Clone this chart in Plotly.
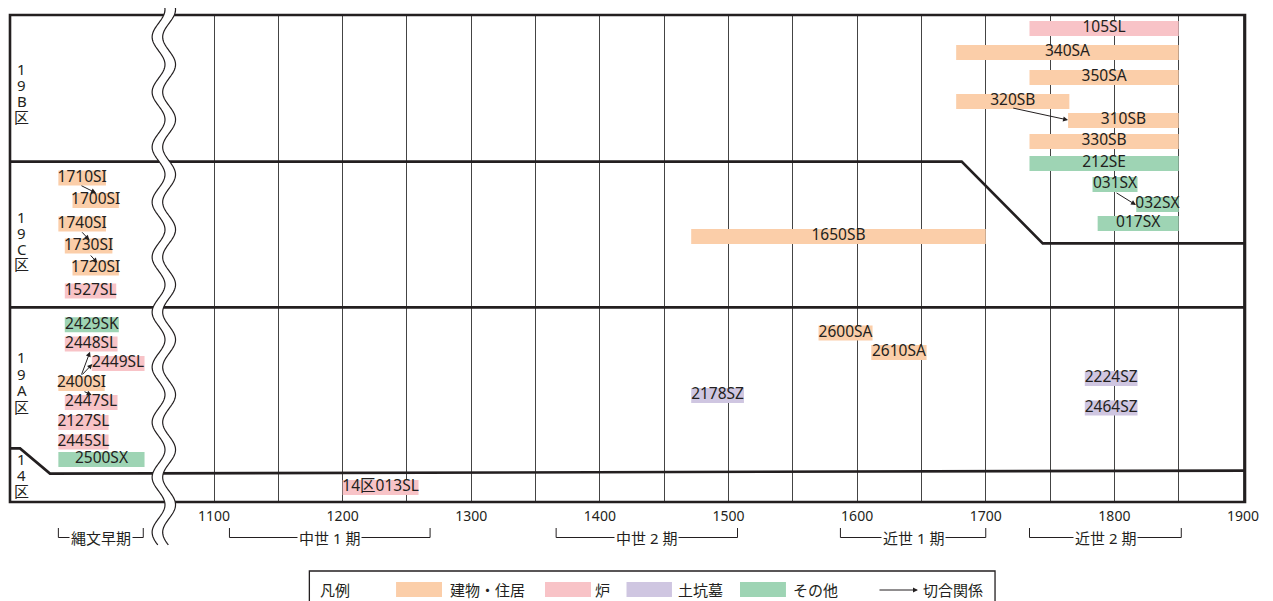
import numpy as np
import plotly.graph_objects as go

# ---------------- data ----------------
feature_labels = ["105SL", "340SA", "350SA", "320SB", "310SB", "330SB", "212SE",
                  "031SX", "032SX", "017SX", "1650SB",
                  "1710SI", "1700SI", "1740SI", "1730SI", "1720SI", "1527SL",
                  "2429SK", "2448SL", "2449SL", "2400SI", "2447SL", "2127SL", "2445SL", "2500SX",
                  "2600SA", "2610SA", "2178SZ", "2224SZ", "2464SZ",
                  "14区013SL"]
feature_kinds = ["炉", "建物・住居", "建物・住居", "建物・住居", "建物・住居", "建物・住居", "その他",
                 "その他", "その他", "その他", "建物・住居",
                 "建物・住居", "建物・住居", "建物・住居", "建物・住居", "建物・住居", "炉",
                 "その他", "炉", "炉", "建物・住居", "炉", "炉", "炉", "その他",
                 "建物・住居", "建物・住居", "土坑墓", "土坑墓", "土坑墓",
                 "炉"]
feature_start = [1734, 1677, 1734, 1677, 1764, 1734, 1734,
                 1783, 1817, 1787, 1471,
                 979, 990, 979, 984, 990, 984,
                 984, 984, 1005, 979, 984, 979, 979, 979,
                 1570, 1611, 1471, 1777, 1777,
                 1200]
feature_end = [1850, 1850, 1850, 1765, 1850, 1850, 1850,
               1818, 1850, 1850, 1700,
               1016, 1026, 1016, 1021, 1026, 1024,
               1026, 1025, 1046, 1015, 1025, 1018, 1018, 1046,
               1612, 1654, 1512, 1818, 1818,
               1259]
feature_row = [0.67, 1.88, 3.12, 4.32, 5.28, 6.32, 7.42,
               8.48, 9.48, 10.42, 11.08,
               8.15, 9.28, 10.45, 11.55, 12.65, 13.8,
               15.49, 16.45, 17.43, 18.43, 19.38, 20.38, 21.35, 22.23,
               15.9, 16.88, 19.03, 18.18, 19.65,
               23.63]

# 切合関係 arrows: tail -> head  (x = year axis, y = row)
cut_tail_x = [1720.2, 1800.5, 995.8, 996.4, 1003.1, 996.6, 996.6, 998.2]
cut_tail_y = [4.64, 8.85, 8.50, 10.79, 11.95, 18.05, 18.05, 18.80]
cut_head_x = [1764.0, 1816.8, 1008.3, 1003.1, 1009.3, 1003.6, 1005.4, 1004.9]
cut_head_y = [5.25, 9.50, 8.90, 11.25, 12.39, 16.84, 17.45, 19.00]

legend_kinds = ["建物・住居", "炉", "土坑墓", "その他"]
kind_colors = ["#FBCEA9", "#F8C3C7", "#CFC6E1", "#9ED4B4"]

period_names = ["縄文早期", "中世 1 期", "中世 2 期", "近世 1 期", "近世 2 期"]
period_start = [979, 1112, 1366, 1587, 1734]
period_end = [1045, 1268, 1507, 1700, 1852]

tick_years = list(range(1100, 1901, 50))
tick_text = [str(y) if y % 100 == 0 else "" for y in tick_years]

area_names = ["19B区", "19C区", "19A区", "14区"]
area_first_row = [2.70, 10.12, 17.12, 22.20]
area_char_step = [0.80, 0.78, 0.82, 0.80]

# ---------------- figure ----------------
INK = "#231F20"
FONT = "Noto Sans, Noto Sans CJK JP"
XMIN, XMAX = 941.4, 1901.55
YBOT, YTOP = 24.35, 0.0

color_of = dict(zip(legend_kinds, kind_colors))
fig = go.Figure()

for kind in legend_kinds:
    idx = [i for i, k in enumerate(feature_kinds) if k == kind]
    fig.add_trace(go.Bar(
        orientation="h",
        y=[feature_row[i] for i in idx],
        base=[feature_start[i] for i in idx],
        x=[feature_end[i] - feature_start[i] for i in idx],
        width=0.75,
        marker=dict(color=color_of[kind], line=dict(width=0)),
        hoverinfo="skip", showlegend=False, name=kind,
    ))

fig.add_trace(go.Scatter(
    x=[(s + e) / 2 for s, e in zip(feature_start, feature_end)],
    y=feature_row,
    text=feature_labels,
    mode="text",
    textposition="middle center",
    textfont=dict(family=FONT, size=15.5, color=INK),
    hoverinfo="skip", showlegend=False, cliponaxis=False,
))

shapes = []
# outer frame
shapes.append(dict(type="rect", xref="paper", yref="paper", x0=0, x1=1, y0=0, y1=1,
                   line=dict(color=INK, width=2.6)))
# area boundaries
boundary_paths = [
    [(XMIN, 7.33), (1681.3, 7.33), (1744.3, 11.42), (XMAX, 11.42)],
    [(XMIN, 14.62), (XMAX, 14.62)],
    [(XMIN, 21.67), (949.2, 21.67), (972.5, 22.93), (XMAX, 22.78)],
]
for pts in boundary_paths:
    d = "M " + " L ".join(f"{x},{y}" for x, y in pts)
    shapes.append(dict(type="path", xref="x", yref="y", path=d,
                       line=dict(color=INK, width=2.6)))

# wavy break (decoration)
ys = np.linspace(1.0144, -0.0883, 400)
xl = 1056.9 - 5.0 * np.cos(2 * np.pi * (ys - 0.9548) / 0.113)
xr = xl + 8.2
fill_path = "M " + " L ".join(f"{a:.3f},{b:.5f}" for a, b in zip(xl, ys))
fill_path += " L " + " L ".join(f"{a:.3f},{b:.5f}" for a, b in zip(xr[::-1], ys[::-1])) + " Z"
shapes.append(dict(type="path", xref="x", yref="paper", path=fill_path,
                   fillcolor="white", line=dict(width=0)))
for xs in (xl, xr):
    d = "M " + " L ".join(f"{a:.3f},{b:.5f}" for a, b in zip(xs, ys))
    shapes.append(dict(type="path", xref="x", yref="paper", path=d,
                       line=dict(color=INK, width=1.2)))

# period brackets
BR_TOP, BR_BOT = -0.0534, -0.0729
annotations = []
for name, s, e in zip(period_names, period_start, period_end):
    d = f"M {s},{BR_TOP} L {s},{BR_BOT} L {e},{BR_BOT} L {e},{BR_TOP}"
    shapes.append(dict(type="path", xref="x", yref="paper", path=d,
                       line=dict(color=INK, width=1)))
    annotations.append(dict(x=(s + e) / 2, y=BR_BOT, xref="x", yref="paper",
                            text=name, showarrow=False, bgcolor="white", borderpad=1,
                            font=dict(family=FONT, size=15, color=INK),
                            xanchor="center", yanchor="middle"))

# legend box
LG_Y = -0.1807
shapes.append(dict(type="rect", xref="paper", yref="paper", x0=0.2424, x1=0.7976,
                   y0=-0.23, y1=-0.1417, line=dict(color=INK, width=1.3)))
swatch_x0 = [0.3126, 0.4332, 0.4992, 0.5911]
swatch_x1 = [0.3498, 0.4704, 0.5360, 0.6283]
label_x = [0.3547, 0.4721, 0.5393, 0.6324]
for k, c, a, b, lx in zip(legend_kinds, kind_colors, swatch_x0, swatch_x1, label_x):
    shapes.append(dict(type="rect", xref="paper", yref="paper", x0=a, x1=b,
                       y0=-0.1951, y1=-0.1643, fillcolor=c, line=dict(width=0)))
    annotations.append(dict(x=lx, y=LG_Y, xref="paper", yref="paper", text=k,
                            showarrow=False, xanchor="left", yanchor="middle",
                            font=dict(family=FONT, size=15, color=INK)))
annotations.append(dict(x=0.2494, y=LG_Y, xref="paper", yref="paper", text="凡例",
                        showarrow=False, xanchor="left", yanchor="middle",
                        font=dict(family=FONT, size=15, color=INK)))
annotations.append(dict(x=0.7352, y=LG_Y, xref="paper", yref="paper", text="",
                        showarrow=True, ax=-40, ay=0, arrowhead=2, arrowsize=1,
                        arrowwidth=1, arrowcolor=INK, standoff=0))
annotations.append(dict(x=0.7373, y=LG_Y, xref="paper", yref="paper", text="切合関係",
                        showarrow=False, xanchor="left", yanchor="middle",
                        font=dict(family=FONT, size=15, color=INK)))

# cut relation arrows
for tx, ty, hx, hy in zip(cut_tail_x, cut_tail_y, cut_head_x, cut_head_y):
    annotations.append(dict(x=hx, y=hy, xref="x", yref="y", ax=tx, ay=ty,
                            axref="x", ayref="y", text="", showarrow=True,
                            arrowhead=2, arrowsize=1, arrowwidth=1,
                            arrowcolor=INK, standoff=0))

# area labels (vertical)
for name, r0, step in zip(area_names, area_first_row, area_char_step):
    for j, ch in enumerate(name):
        annotations.append(dict(x=0.0097, y=r0 + j * step, xref="paper", yref="y",
                                text=ch, showarrow=False, xanchor="center",
                                yanchor="middle",
                                font=dict(family=FONT, size=15, color=INK)))

fig.update_layout(
    width=1265, height=593,
    margin=dict(l=2, r=28, t=7, b=99),
    plot_bgcolor="white", paper_bgcolor="white",
    barmode="overlay", showlegend=False,
    shapes=shapes, annotations=annotations,
    xaxis=dict(range=[XMIN, XMAX], tickvals=tick_years, ticktext=tick_text,
               showgrid=True, gridcolor="#444444", gridwidth=1, zeroline=False,
               showline=False, ticks="", ticklabelstandoff=4,
               tickfont=dict(family=FONT, size=14, color=INK), fixedrange=True),
    yaxis=dict(range=[YBOT, YTOP], visible=False, fixedrange=True),
)

fig.write_html("out.html")
